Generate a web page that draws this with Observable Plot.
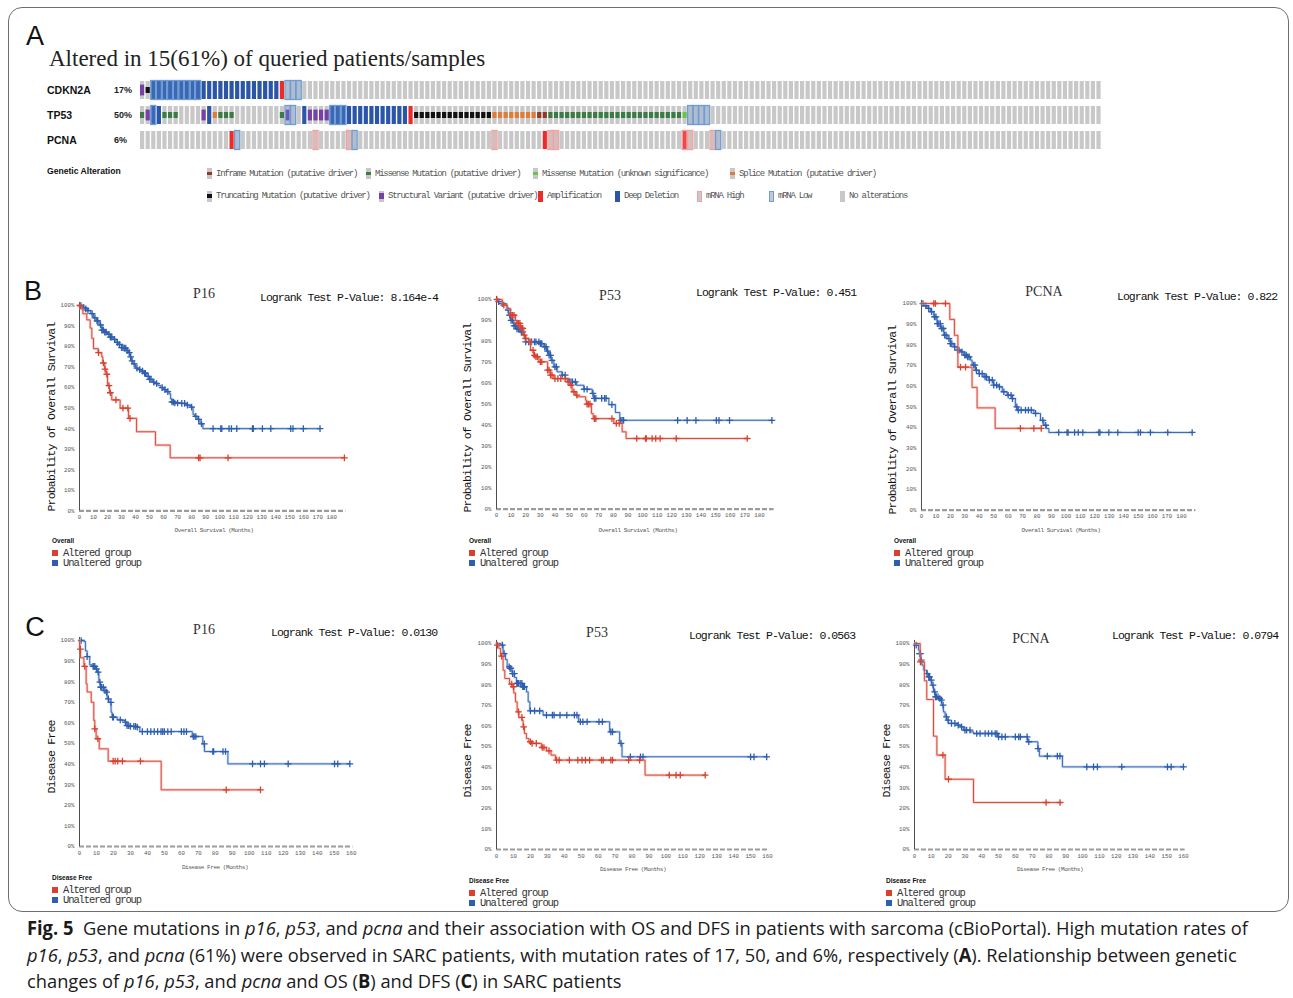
<!DOCTYPE html>
<html><head><meta charset="utf-8">
<script src="https://cdn.jsdelivr.net/npm/d3@7"></script>
<script src="https://cdn.jsdelivr.net/npm/@observablehq/plot@0.6"></script>
<style>
body{margin:0;background:#fff;}
#root{position:relative;width:1293px;height:998px;overflow:hidden;background:#fff;}
.t{position:absolute;white-space:nowrap;line-height:1;}
svg{position:absolute;}
</style></head><body><div id="root"></div>
<script>
// ---------------- DATA: oncoprint ----------------
const N = 172;
const genes = ["CDKN2A", "TP53", "PCNA"];
const genePct = ["17%", "50%", "6%"];
const cdkn2aRuns = [["S",1],["T",1],["DL",9],["D",14],["A",1],["L",3]];
const tp53Runs = [["M",1],["S",1],["DL",1],["D",1],["M",3],["N",4],["S",1],["D",1],["P",1],["M",3],["N",8],["M",1],["SL",1],["L",1],["N",1],["D",1],["S",4],["DL",3],["D",11],["A",1],["T",14],["P",8],["I",2],["M",24],["V",1],["L",4]];
const pcnaRuns = [["N",16],["A",1],["L",1],["N",13],["H",1],["N",5],["H",1],["L",1],["N",24],["H",1],["N",8],["A",1],["H",2],["N",22],["AH",1],["H",1],["N",3],["H",1],["L",1]];
const legendCodes = ["I","M","V","P","T","S","A","D","H","L","N"];
const legendLabels = ["Inframe Mutation (putative driver)","Missense Mutation (putative driver)","Missense Mutation (unknown significance)","Splice Mutation (putative driver)","Truncating Mutation (putative driver)","Structural Variant (putative driver)","Amplification","Deep Deletion","mRNA High","mRNA Low","No alterations"];

// ---------------- DATA: Kaplan-Meier curves (time in months, survival %) ----------------
const osP16AltT = [0,0.5,2.4,5.2,7.6,8.8,10,13.3,15.9,16.6,18,19,20,21.4,23,29,35,40.7,54.2,64.7];
const osP16AltS = [100,98.4,96,93,89,84,79,77,75,72,69,66.5,61,57.5,54,50,45,38.5,32,25.8];
const osP16AltC = [0.3,13.6,17,18.2,19.5,21,22,26,31,34.5,36,85,86,106,189];
const osP16UnaT = [0,2,4,6,8,10,12,14,16,18,20,22,24,26,28,30,32,34,35,36,37,38,40,42,44,46,48,50,52,54,56,58,60,62,64,65,66,68,72,76,79,81,82,84,86,88];
const osP16UnaS = [100,99,98.4,97.5,96,94,92.5,90.5,88,87,86,84.6,83.5,82,81,79.5,79.2,78,77,75,73,71.6,69.5,68.8,68,67,65.5,64,62.7,62,61,60,59,58,57,54.5,53,52.5,52.3,51.5,50.5,47,46,44.5,42.4,40];
const osP16UnaC = [1,3,4.5,6,9,11,12.5,13,15,16,17,18,19,21,22,23,25,27,28.5,30,31,32,33,34,35.5,36.5,37.5,39,41,43,45,46.5,47,49,50,51,53,55,59,61,63,66,67,68,70,73,75,77,80,83,85,87,95.3,100.8,101.5,106.7,108.4,112.2,123.4,124,130.5,136.5,150.7,152.3,159.7,171.6];

const osP53AltT = [0,3.9,7.3,9.6,13,14,16.4,18.7,19.8,22,23.3,25.5,26.7,29,35,37,39.2,48.4,50.6,51.8,54,55.2,61,61.6,65,66.2,80.3,86,88.7];
const osP53AltS = [100,97.3,95.7,92.5,90,88.6,86.2,83,81.4,79.8,75.8,73.4,72.7,70.3,66.3,63.9,62.3,60.7,59.1,56,54.4,53.6,52,50.1,45.6,43.2,40.9,36.9,33.7];
const osP53AltC = [0.3,5,10,11,12,14,15,16,17,17.5,18,19,20,23,25,26,27,28,30,31,35,36,37,38,40,42,44,47,49,51,53,55,62,63,64,67,68,79,82,84,96,102,102.5,106.5,109,112,123,171.6];
const osP53UnaT = [0,1,4,7,8.4,9.6,11.9,14,16.4,18.7,19.8,30,32.4,34.2,35.8,37.4,39.2,41.5,45,47.2,49.5,54.8,59.8,65.5,66.6,76.9,81.4,84.4];
const osP53UnaS = [100,99,98,95,92.5,90,87.4,86,84.6,83,79.8,79,77.4,75.4,73.4,71,67.9,65.5,63.9,62.3,60.7,59.1,57.2,55.2,52.8,49.9,46.1,42.4];
const osP53UnaC = [1.5,4,8,9,10,11,12,13,14,15,16,17,18,20,22,24,26,27,29,30,31,33,34,35,36,37,38,40,41,45,47,50,51,52,54,60,62,66,67,68,72,74,75,79,85,86,87,124,130.5,136.5,150.5,152.3,159.5,188.5];

const osPcnaAltT = [0,19.6,22.8,25.2,35,38.5,51];
const osPcnaAltS = [100,92.3,84.6,69.2,59.4,49.5,39.6];
const osPcnaAltC = [8.5,9.6,16.6,27,30.5,68.5,77.8,82.9];
const osPcnaUnaT = [0,1.6,3.9,6.2,8.5,10.8,13.2,15.5,17.8,20,22.4,24.7,27,29.3,31.6,34,35,37.4,39.7,43.2,46.6,50,53.5,55.9,59.3,62.8,65,66.2,77.8,82.4,84.7,86.5,88.2];
const osPcnaUnaS = [100,98.9,97.6,96,93.5,90.3,87.9,84.7,83,80.6,79,77.4,76.6,75,74.2,72.6,70.2,67.7,66.1,64.5,62.9,60.5,59.7,57.3,55.6,54,50,48.4,46.8,43.5,41.1,39.5,37.6];
const osPcnaUnaC = [1,3,5,7,9,10,11,12,13,14,15,16,17,19,20,21,23,25,26,28,30,31,32,33,36,37,38,40,42,44,45,47,49,50,52,54,57,60,62,63,66,67,69,72,74,76,79,84,86,95,100.8,101.5,106,108.5,111.7,122.8,123.5,129.7,135.9,150,151.6,158.5,170.5,187.4];

const dfsP16AltT = [0,0.2,0.6,2.6,3.9,4.5,6.9,8.4,9,9.8,11.6,16.9,48.1];
const dfsP16AltS = [100,95.8,91.6,87.4,79,75,70,61.2,57.1,52.3,47.4,41.4,27.5];
const dfsP16AltC = [0.5,3.1,9,10.8,19.8,21,22.5,25.3,35.9,86.4,106.6];
const dfsP16UnaT = [0,2.6,3.5,4.5,6,7.5,9.4,10.4,11.4,12.4,14.3,15.7,16.3,17.3,18.6,19.2,22.2,25,27,28,30,34,35.5,66.4,72.6,73.6,87.4];
const dfsP16UnaS = [100,99.5,95,92.2,88.2,87.4,86.2,84.6,79.8,77.3,75.7,74.9,71.7,70,65.2,62.8,61.5,61.2,60.4,58.7,58.3,57.9,55.8,53.4,49.8,46.1,40.1];
const dfsP16UnaC = [1,4.5,8,8.5,9,10,11,12,12.5,13,14,15,16,17,18.5,19.5,20,24,27,28,29,30,32,33,34,37,40,42,44,46,48,49,50,52,54,60,61.5,63,67,67.5,68.5,73.5,78.5,79,84.5,86,101.9,106.6,108.9,122.9,150.2,152.1,159.2];

const dfsP53AltT = [0,0.4,1.4,2.4,3.9,4.9,7.7,9.2,10.2,11.2,12.2,13.2,15.1,15.7,16.5,17.7,19.1,20.6,26.5,29.5,32.2,34.8,87.7];
const dfsP53AltS = [100,99.2,97.6,93.9,87,83,80.3,79,76,71.7,66.8,64.1,62.8,59.5,56.3,53.9,52.3,51.5,49.5,47.9,45.8,43.4,36.1];
const dfsP53AltC = [0.5,3,9,10,13,15,16,20,21,23.5,27,28,31,35.5,37,43,48,50.5,52.5,55,62,63,67.5,68.5,78,84.5,102,106,108.5,123.2];
const dfsP53UnaT = [0,2.6,3.9,5.3,6.3,7.9,9.2,10.6,11.8,15.1,17.7,18.7,19.7,27.5,48.5,66.8,72.7,74.1];
const dfsP53UnaS = [100,99.2,95.1,92.2,88.7,87.9,85.4,83.5,80.6,79,76.5,71.7,67.3,65.2,62,57.1,51.5,45];
const dfsP53UnaC = [3.5,4.5,7.5,8,8.5,9.5,10.5,12,12.5,13,14,15,15.5,16,16.5,20,22.5,25.5,29.5,33,34,37.5,41.5,46,47.5,49.5,51,53.5,60.5,62.5,67.5,68.5,73.5,79,85,86.5,150,152,159.5];

const dfsPcnaAltT = [0,3.4,5.9,7.3,11.3,13.3,18.2,35.1];
const dfsPcnaAltS = [100,91.1,81.9,72.8,55,45.8,34.1,22.8];
const dfsPcnaAltC = [3.5,16.9,20.2,78.3,86.6];
const dfsPcnaUnaT = [0,1,2.4,3,3.8,4.4,5.4,7.3,8.3,9.3,10.3,11.3,12.3,14.3,15.3,16.3,17.2,18.2,19.2,20.2,25.2,27.2,29.1,33.1,35.1,49.4,67.2,73.4,74.3,88];
const dfsPcnaUnaS = [100,99.2,96.8,95.1,91.9,89.5,87,85.4,83.8,82.2,79.8,76.5,74.1,73.3,72.5,70.1,66.8,64.4,62.8,61.2,60.4,59.5,57.9,57.1,56.3,54.7,52.3,49,45.3,40.1];
const dfsPcnaUnaC = [1,3,3.5,4,7.5,8.5,9,10,11,12,12.5,13,14,15,16,17,19,20,22,24,26,28,30,31,33,37,39,42,44,46,48,49,50,52,54,60,62,63,67,68,73.5,79,85,86.5,102.5,106.5,108.8,123.3,150.5,152.7,160];

const kmTitles = ["P16","P53","PCNA","P16","P53","PCNA"];
const kmPValues = ["8.164e-4","0.451","0.822","0.0130","0.0563","0.0794"];
const groupLabels = ["Altered group","Unaltered group"];

// ---------------- STYLE / LAYOUT ----------------
const root = document.getElementById("root");
const MONO = '"Liberation Mono", "DejaVu Sans Mono", monospace';
const SANS = '"Liberation Sans", Arial, sans-serif';
const SERIF = '"Liberation Serif", "Times New Roman", serif';
const altColors = {D:"#2b56a8", A:"#ee2b2b", M:"#3b7c44", V:"#6cc24a", P:"#e07b39", I:"#8e3a2c", T:"#111111", S:"#7640a8", H:"#f2a0a0", L:"#6c9dd6", N:"#c8c8c8"};
const RED = "#d8412f", BLUE = "#2e5eae", RED_L = "#f0a39a", BLUE_L = "#9dbbe6";

function txt(html, x, y, css, anchor) {
  const d = document.createElement("div");
  d.className = "t";
  d.innerHTML = html;
  d.style.cssText += css;
  d.style.left = x + "px"; d.style.top = y + "px";
  d.style.transform = anchor === "center" ? "translate(-50%,-50%)" :
                      anchor === "rot" ? "translate(-50%,-50%) rotate(-90deg)" : "translateY(-50%)";
  root.appendChild(d);
  return d;
}

// frame
const frame = document.createElement("div");
frame.style.cssText = "position:absolute;left:8px;top:7px;width:1281px;height:905px;border:1.4px solid #6e6e6e;border-radius:14px;box-sizing:border-box;";
root.appendChild(frame);

// panel labels
txt("A", 35, 36, `font-family:${SANS};font-size:27px;color:#111;`, "center");
txt("B", 33, 291, `font-family:${SANS};font-size:27px;color:#111;`, "center");
txt("C", 35, 627, `font-family:${SANS};font-size:27px;color:#111;`, "center");

// ---------------- Panel A: oncoprint ----------------
txt("Altered in 15(61%) of queried patients/samples", 49, 58, `font-family:${SERIF};font-size:23px;color:#222;`);
const geneRuns = [cdkn2aRuns, tp53Runs, pcnaRuns];
const geneCodes = geneRuns.map(runs => {
  const arr = [];
  runs.forEach(([c, n]) => { for (let k = 0; k < n; k++) arr.push(c); });
  while (arr.length < N) arr.push("N");
  return arr;
});
const RH = 0.72;
const bgCells = [], innerCells = [], boxCells = [];
geneCodes.forEach((codes, g) => {
  codes.forEach((c, i) => {
    const base = c.includes("D") ? altColors.D : c.includes("A") ? altColors.A : altColors.N;
    bgCells.push({x1: i, x2: i + 0.75, y1: g, y2: g + RH, fill: base});
    for (const m of ["M","V","P","I","T"]) if (c.includes(m))
      innerCells.push({x1: i, x2: i + 0.75, y1: g + RH / 3, y2: g + RH * 2 / 3, fill: altColors[m]});
    if (c.includes("S"))
      innerCells.push({x1: i, x2: i + 0.75, y1: g + RH * 0.2, y2: g + RH * 0.8, fill: altColors.S});
    for (const m of ["H","L"]) if (c.includes(m))
      boxCells.push({x1: i - 0.08, x2: i + 0.83, y1: g - 0.02, y2: g + RH + 0.02, stroke: altColors[m]});
  });
});
const onco = Plot.plot({
  width: 1110, height: 90, marginLeft: 140, marginRight: 8, marginTop: 11, marginBottom: 4,
  x: {domain: [0, N], axis: null},
  y: {domain: [0, 3], range: [11, 86], axis: null},
  color: {type: "identity"},
  style: {background: "transparent", overflow: "visible"},
  marks: [
    Plot.rect(bgCells, {x1: "x1", x2: "x2", y1: "y1", y2: "y2", fill: "fill"}),
    Plot.rect(innerCells, {x1: "x1", x2: "x2", y1: "y1", y2: "y2", fill: "fill"}),
    Plot.rect(boxCells, {x1: "x1", x2: "x2", y1: "y1", y2: "y2", stroke: "stroke", fill: "stroke", fillOpacity: 0.25, strokeWidth: 1.3})
  ]
});
onco.style.left = "0px"; onco.style.top = "70px";
root.appendChild(onco);
genes.forEach((g, gi) => {
  txt(g, 47, 90 + 25 * gi, `font-family:${SANS};font-weight:bold;font-size:10.5px;color:#111;`);
  txt(genePct[gi], 114, 90 + 25 * gi, `font-family:${SANS};font-weight:bold;font-size:9px;color:#222;`);
});

// legend of panel A
txt("Genetic Alteration", 47, 170.5, `font-family:${SANS};font-weight:bold;font-size:8.6px;color:#111;`);
const legendX = [207, 366, 533, 730, 207, 379, 538, 615, 697, 769, 840];
const legendRow = [0, 0, 0, 0, 1, 1, 1, 1, 1, 1, 1];
legendCodes.forEach((code, k) => {
  const cy = legendRow[k] ? 196 : 173.5;
  const x = legendX[k];
  const sw = document.createElement("div");
  const full = code === "A" || code === "D";
  sw.style.cssText = `position:absolute;left:${x}px;top:${cy - 5.5}px;width:5px;height:11px;background:${full ? altColors[code] : altColors.N};box-sizing:border-box;`;
  if (code === "H" || code === "L") sw.style.border = `1.3px solid ${altColors[code]}`;
  if ("MVPIT".includes(code)) {
    const inn = document.createElement("div");
    inn.style.cssText = `position:absolute;left:0;top:3.7px;width:5px;height:3.7px;background:${altColors[code]};`;
    sw.appendChild(inn);
  }
  if (code === "S") {
    const inn = document.createElement("div");
    inn.style.cssText = `position:absolute;left:0;top:2.2px;width:5px;height:6.6px;background:${altColors.S};`;
    sw.appendChild(inn);
  }
  txt(legendLabels[k], x + 9, cy, `font-family:${MONO};font-size:9px;letter-spacing:-1.25px;color:#555;`);
  root.appendChild(sw);
});

// ---------------- Panels B & C: Kaplan-Meier ----------------
function stepAt(T, S, c) { let v = S[0]; for (let i = 0; i < T.length; i++) if (T[i] <= c) v = S[i]; return v; }
function series(T, S, C) {
  const line = T.map((t, i) => ({t, s: S[i]}));
  const end = Math.max(T[T.length - 1], d3.max(C));
  line.push({t: end, s: S[S.length - 1]});
  const cens = C.map(c => ({t: c, s: stepAt(T, S, c)}));
  return {line, cens};
}
const kmData = [
  [series(osP16AltT, osP16AltS, osP16AltC), series(osP16UnaT, osP16UnaS, osP16UnaC)],
  [series(osP53AltT, osP53AltS, osP53AltC), series(osP53UnaT, osP53UnaS, osP53UnaC)],
  [series(osPcnaAltT, osPcnaAltS, osPcnaAltC), series(osPcnaUnaT, osPcnaUnaS, osPcnaUnaC)],
  [series(dfsP16AltT, dfsP16AltS, dfsP16AltC), series(dfsP16UnaT, dfsP16UnaS, dfsP16UnaC)],
  [series(dfsP53AltT, dfsP53AltS, dfsP53AltC), series(dfsP53UnaT, dfsP53UnaS, dfsP53UnaC)],
  [series(dfsPcnaAltT, dfsPcnaAltS, dfsPcnaAltC), series(dfsPcnaUnaT, dfsPcnaUnaS, dfsPcnaUnaC)]
];
const kmLayout = [
  {x0: 78.7, y100: 305, y0: 510.3, ppm: 1.4017, xmax: 190, tickMax: 180, title: [204, 294], pv: [260, 298], ylab: [52, 417], xlab: [214, 531], leg: [52, 541], os: true},
  {x0: 496, y100: 299.3, y0: 509, ppm: 1.461, xmax: 190, tickMax: 180, title: [610, 296], pv: [696, 293], ylab: [468, 418], xlab: [638, 531], leg: [469, 541], os: true},
  {x0: 921, y100: 303.3, y0: 510, ppm: 1.4444, xmax: 190, tickMax: 180, title: [1044, 292], pv: [1117, 297], ylab: [893, 420], xlab: [1061, 531], leg: [894, 541], os: true},
  {x0: 79, y100: 640, y0: 846, ppm: 1.698, xmax: 161, tickMax: 160, title: [204, 630], pv: [271, 633], ylab: [52, 757], xlab: [215, 868], leg: [52, 878], os: false},
  {x0: 496, y100: 643.3, y0: 849.3, ppm: 1.694, xmax: 161, tickMax: 160, title: [597, 633], pv: [689, 636], ylab: [468, 761], xlab: [633, 870], leg: [469, 881], os: false},
  {x0: 914.3, y100: 643.3, y0: 849.3, ppm: 1.681, xmax: 161, tickMax: 160, title: [1031, 639], pv: [1112, 636], ylab: [887, 761], xlab: [1050, 870], leg: [886, 881], os: false}
];

kmLayout.forEach((L, k) => {
  const [alt, una] = kmData[k];
  const ml = 40, mr = 14, mt = 10, mb = 22;
  const iw = L.xmax * L.ppm, ih = L.y0 - L.y100;
  const groups = [
    {d: una, color: BLUE, light: BLUE_L},
    {d: alt, color: RED, light: RED_L}
  ];
  const marks = [
    Plot.ruleY([0], {stroke: "#9c9c9c", strokeWidth: 2.2, strokeDasharray: "5,2"}),
    Plot.ruleX([0], {y1: 0, y2: 101.5, stroke: "#222", strokeWidth: 0.8})
  ];
  groups.forEach(g => {
    marks.push(Plot.line(g.d.line, {x: "t", y: "s", curve: "step-after", stroke: g.light, strokeWidth: 2.6, strokeOpacity: 0.55}));
    marks.push(Plot.line(g.d.line, {x: "t", y: "s", curve: "step-after", stroke: g.color, strokeWidth: 0.9}));
    marks.push(Plot.dot(g.d.cens, {x: "t", y: "s", symbol: "plus", r: 2.3, stroke: g.color, strokeWidth: 1.3}));
  });
  const svg = Plot.plot({
    width: ml + iw + mr, height: mt + ih + mb,
    marginLeft: ml, marginRight: mr, marginTop: mt, marginBottom: mb,
    style: {fontFamily: MONO, fontSize: "5.8px", color: "#555", background: "transparent", overflow: "visible"},
    x: {domain: [0, L.xmax], range: [ml, ml + iw], ticks: d3.range(0, L.tickMax + 1, 10), tickSize: 0, tickPadding: 4, label: null},
    y: {domain: [0, 100], range: [mt + ih, mt], ticks: d3.range(0, 101, 10), tickFormat: d => d + "%", tickSize: 0, tickPadding: 5, label: null},
    marks
  });
  svg.style.left = (L.x0 - ml) + "px";
  svg.style.top = (L.y100 - mt) + "px";
  root.appendChild(svg);

  txt(kmTitles[k], L.title[0], L.title[1], `font-family:${SERIF};font-size:14px;color:#333;`, "center");
  txt("Logrank Test P-Value: " + kmPValues[k], L.pv[0], L.pv[1], `font-family:${MONO};font-size:11.5px;letter-spacing:-0.97px;color:#111;`);
  txt(L.os ? "Probability of Overall Survival" : "Disease Free", L.ylab[0], L.ylab[1], `font-family:${MONO};font-size:11.5px;letter-spacing:-0.8px;color:#111;`, "rot");
  txt(L.os ? "Overall Survival (Months)" : "Disease Free (Months)", L.xlab[0], L.xlab[1], `font-family:${MONO};font-size:6px;letter-spacing:-0.45px;color:#555;`, "center");
  txt(L.os ? "Overall" : "Disease Free", L.leg[0], L.leg[1], `font-family:${SANS};font-weight:bold;font-size:6.5px;color:#111;`);
  [RED, BLUE].forEach((c, j) => {
    const sq = document.createElement("div");
    const cy = L.leg[1] + 12 + 10 * j;
    sq.style.cssText = `position:absolute;left:${L.leg[0]}px;top:${cy - 3}px;width:6px;height:6px;background:${c};`;
    root.appendChild(sq);
    txt(groupLabels[j], L.leg[0] + 11, cy, `font-family:${MONO};font-size:10.5px;letter-spacing:-1.1px;color:#333;`);
  });
});

// ---------------- Caption ----------------
const capLines = [
  '<b>Fig. 5</b>&nbsp; Gene mutations in <i>p16</i>, <i>p53</i>, and <i>pcna</i> and their association with OS and DFS in patients with sarcoma (cBioPortal). High mutation rates of',
  '<i>p16</i>, <i>p53</i>, and <i>pcna</i> (61%) were observed in SARC patients, with mutation rates of 17, 50, and 6%, respectively (<b>A</b>). Relationship between genetic',
  'changes of <i>p16</i>, <i>p53</i>, and <i>pcna</i> and OS (<b>B</b>) and DFS (<b>C</b>) in SARC patients'
];
const capY = [928, 955, 981];
const capDivs = capLines.map((h, i) => txt(h, 27, capY[i], `font-family:"Open Sans","Noto Sans",sans-serif;font-size:19px;color:#1a1a1a;transform-origin:0 50%;`));
const w0 = capDivs[0].getBoundingClientRect().width;
const sx = 1221 / w0;
capDivs.forEach(d => { d.style.transform = `translateY(-50%) scaleX(${sx})`; });
</script></body></html>
